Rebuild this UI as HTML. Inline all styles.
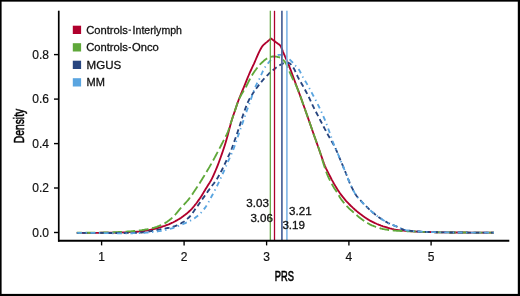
<!DOCTYPE html>
<html><head><meta charset="utf-8"><title>PRS density</title>
<style>
html,body{margin:0;padding:0;background:#fff;}
body{width:520px;height:296px;overflow:hidden;position:relative;font-family:"Liberation Sans",sans-serif;}
svg{position:absolute;left:0;top:0;display:block;will-change:transform;}
text{font-family:"Liberation Sans",sans-serif;fill:#111;stroke:#111;stroke-width:0.3px;}
</style></head><body>
<svg width="520" height="296" viewBox="0 0 520 296">
<rect x="0" y="0" width="520" height="296" fill="#fff"/>

<rect x="0" y="0" width="520" height="1.65" fill="#000"/>
<rect x="0" y="0" width="1.6" height="296" fill="#000"/>
<rect x="0" y="293.9" width="520" height="2.1" fill="#000"/>
<rect x="517.8" y="0" width="2.2" height="296" fill="#000"/>
<path d="M76.8,232.8 L77.8,232.8 L78.8,232.8 L79.8,232.8 L80.8,232.8 L81.8,232.8 L82.8,232.8 L83.8,232.8 L84.8,232.8 L85.8,232.8 L86.8,232.8 L87.8,232.8 L88.8,232.8 L89.8,232.8 L90.8,232.8 L91.8,232.8 L92.8,232.8 L93.8,232.8 L94.8,232.8 L95.8,232.8 L96.8,232.8 L97.8,232.8 L98.8,232.8 L99.8,232.8 L100.8,232.7 L101.8,232.7 L102.8,232.7 L103.8,232.7 L104.8,232.7 L105.8,232.7 L106.8,232.7 L107.8,232.7 L108.8,232.7 L109.8,232.7 L110.8,232.7 L111.8,232.7 L112.8,232.7 L113.8,232.7 L114.8,232.6 L115.8,232.6 L116.8,232.6 L117.8,232.6 L118.8,232.6 L119.8,232.5 L120.8,232.5 L121.8,232.5 L122.8,232.4 L123.8,232.4 L124.8,232.4 L125.8,232.3 L126.8,232.3 L127.8,232.2 L128.8,232.2 L129.8,232.1 L130.8,232.1 L131.8,232.0 L132.8,232.0 L133.8,231.9 L134.8,231.8 L135.8,231.8 L136.8,231.7 L137.8,231.7 L138.8,231.6 L139.8,231.5 L140.8,231.4 L141.8,231.3 L142.8,231.2 L143.8,231.1 L144.8,230.9 L145.8,230.7 L146.8,230.5 L147.8,230.3 L148.8,230.1 L149.8,229.9 L150.8,229.7 L151.8,229.4 L152.8,229.2 L153.8,229.0 L154.8,228.8 L155.8,228.5 L156.8,228.2 L157.8,228.0 L158.8,227.7 L159.8,227.4 L160.8,227.1 L161.8,226.8 L162.8,226.4 L163.8,226.1 L164.8,225.8 L165.8,225.4 L166.8,225.0 L167.8,224.7 L168.8,224.3 L169.8,223.8 L170.8,223.4 L171.8,222.9 L172.8,222.5 L173.8,222.0 L174.8,221.5 L175.8,220.9 L176.8,220.4 L177.8,219.8 L178.8,219.2 L179.8,218.6 L180.8,218.0 L181.8,217.3 L182.8,216.6 L183.8,215.8 L184.8,215.1 L185.8,214.3 L186.8,213.5 L187.8,212.6 L188.8,211.7 L189.8,210.8 L190.8,209.8 L191.8,208.8 L192.8,207.7 L193.8,206.5 L194.8,205.2 L195.8,204.0 L196.8,202.7 L197.8,201.3 L198.8,199.9 L199.8,198.5 L200.8,197.0 L201.8,195.4 L202.8,193.8 L203.8,192.1 L204.8,190.5 L205.8,188.8 L206.8,187.2 L207.8,185.6 L208.8,184.0 L209.8,182.4 L210.8,180.7 L211.8,178.9 L212.8,176.8 L213.8,174.6 L214.8,172.3 L215.8,170.0 L216.8,167.6 L217.8,165.1 L218.8,162.5 L219.8,159.8 L220.8,157.0 L221.8,154.1 L222.8,151.2 L223.8,148.2 L224.8,145.2 L225.8,142.0 L226.8,138.6 L227.8,135.0 L228.8,131.1 L229.8,127.2 L230.8,123.5 L231.8,120.0 L232.8,116.9 L233.8,114.0 L234.8,111.1 L235.8,108.1 L236.8,105.1 L237.8,102.2 L238.8,99.5 L239.8,97.0 L240.8,94.5 L241.8,92.1 L242.8,89.7 L243.8,87.3 L244.8,84.8 L245.8,82.3 L246.8,79.8 L247.8,77.3 L248.8,75.0 L249.8,72.7 L250.8,70.5 L251.8,68.4 L252.8,66.2 L253.8,64.1 L254.8,61.8 L255.8,59.5 L256.8,57.1 L257.8,54.8 L258.8,52.6 L259.8,50.6 L260.8,48.7 L261.8,47.0 L262.8,45.6 L263.8,44.6 L264.8,43.8 L265.8,42.9 L266.8,42.1 L267.8,41.2 L268.8,40.4 L269.8,39.5 L270.8,38.7 L271.0,38.5 L272.0,39.2 L273.0,40.0 L274.0,40.7 L275.0,41.5 L276.0,42.3 L277.0,43.0 L278.0,43.8 L279.0,44.4 L280.0,45.3 L281.0,46.8 L282.0,49.2 L283.0,51.8 L284.0,54.1 L285.0,56.3 L286.0,58.6 L287.0,60.9 L288.0,63.3 L289.0,65.7 L290.0,68.3 L291.0,70.9 L292.0,73.6 L293.0,76.3 L294.0,79.0 L295.0,81.8 L296.0,84.5 L297.0,87.2 L298.0,89.9 L299.0,92.6 L300.0,95.3 L301.0,98.1 L302.0,100.9 L303.0,103.7 L304.0,106.5 L305.0,109.3 L306.0,112.2 L307.0,115.0 L308.0,117.9 L309.0,120.7 L310.0,123.6 L311.0,126.5 L312.0,129.4 L313.0,132.3 L314.0,135.2 L315.0,138.0 L316.0,140.8 L317.0,143.6 L318.0,146.5 L319.0,149.3 L320.0,152.1 L321.0,155.0 L322.0,157.9 L323.0,160.8 L324.0,163.5 L325.0,166.0 L326.0,168.3 L327.0,170.4 L328.0,172.4 L329.0,174.4 L330.0,176.3 L331.0,178.2 L332.0,180.1 L333.0,181.9 L334.0,183.7 L335.0,185.4 L336.0,187.1 L337.0,188.7 L338.0,190.3 L339.0,191.8 L340.0,193.3 L341.0,194.6 L342.0,195.9 L343.0,197.2 L344.0,198.4 L345.0,199.6 L346.0,200.8 L347.0,201.9 L348.0,202.9 L349.0,204.0 L350.0,205.0 L351.0,206.0 L352.0,206.9 L353.0,207.9 L354.0,208.8 L355.0,209.7 L356.0,210.5 L357.0,211.4 L358.0,212.2 L359.0,213.0 L360.0,213.8 L361.0,214.5 L362.0,215.2 L363.0,216.0 L364.0,216.7 L365.0,217.4 L366.0,218.1 L367.0,218.7 L368.0,219.4 L369.0,220.0 L370.0,220.6 L371.0,221.1 L372.0,221.6 L373.0,222.1 L374.0,222.6 L375.0,223.1 L376.0,223.5 L377.0,224.0 L378.0,224.4 L379.0,224.8 L380.0,225.2 L381.0,225.6 L382.0,225.9 L383.0,226.3 L384.0,226.6 L385.0,226.9 L386.0,227.2 L387.0,227.5 L388.0,227.8 L389.0,228.1 L390.0,228.4 L391.0,228.6 L392.0,228.9 L393.0,229.1 L394.0,229.4 L395.0,229.6 L396.0,229.8 L397.0,229.9 L398.0,230.1 L399.0,230.2 L400.0,230.3 L401.0,230.4 L402.0,230.5 L403.0,230.6 L404.0,230.7 L405.0,230.8 L406.0,230.9 L407.0,231.0 L408.0,231.1 L409.0,231.1 L410.0,231.2 L411.0,231.3 L412.0,231.3 L413.0,231.4 L414.0,231.4 L415.0,231.5 L416.0,231.6 L417.0,231.6 L418.0,231.6 L419.0,231.7 L420.0,231.7 L421.0,231.8 L422.0,231.8 L423.0,231.8 L424.0,231.9 L425.0,231.9 L426.0,231.9 L427.0,232.0 L428.0,232.0 L429.0,232.0 L430.0,232.0 L431.0,232.1 L432.0,232.1 L433.0,232.1 L434.0,232.2 L435.0,232.2 L436.0,232.2 L437.0,232.2 L438.0,232.3 L439.0,232.3 L440.0,232.3 L441.0,232.3 L442.0,232.3 L443.0,232.4 L444.0,232.4 L445.0,232.4 L446.0,232.4 L447.0,232.4 L448.0,232.4 L449.0,232.4 L450.0,232.5 L451.0,232.5 L452.0,232.5 L453.0,232.5 L454.0,232.5 L455.0,232.5 L456.0,232.5 L457.0,232.5 L458.0,232.5 L459.0,232.5 L460.0,232.5 L461.0,232.5 L462.0,232.5 L463.0,232.5 L464.0,232.5 L465.0,232.5 L466.0,232.5 L467.0,232.5 L468.0,232.6 L469.0,232.6 L470.0,232.6 L471.0,232.6 L472.0,232.6 L473.0,232.6 L474.0,232.6 L475.0,232.6 L476.0,232.6 L477.0,232.6 L478.0,232.6 L479.0,232.6 L480.0,232.6 L481.0,232.6 L482.0,232.6 L483.0,232.6 L484.0,232.6 L485.0,232.6 L486.0,232.6 L487.0,232.6 L488.0,232.6 L489.0,232.6 L490.0,232.6 L491.0,232.6 L492.0,232.6 L493.0,232.6 L493.8,232.6" fill="none" stroke="#b0002d" stroke-width="1.85" stroke-linejoin="round"/>
<path d="M76.8,232.7 L77.8,232.7 L78.8,232.7 L79.8,232.7 L80.8,232.7 L81.8,232.7 L82.8,232.7 L83.8,232.7 L84.8,232.7 L85.8,232.7 L86.8,232.7 L87.8,232.7 L88.8,232.7 L89.8,232.7 L90.8,232.7 L91.8,232.7 L92.8,232.7 L93.8,232.6 L94.8,232.6 L95.8,232.6 L96.8,232.6 L97.8,232.6 L98.8,232.6 L99.8,232.6 L100.8,232.6 L101.8,232.6 L102.8,232.6 L103.8,232.5 L104.8,232.5 L105.8,232.5 L106.8,232.5 L107.8,232.4 L108.8,232.4 L109.8,232.4 L110.8,232.3 L111.8,232.3 L112.8,232.3 L113.8,232.2 L114.8,232.2 L115.8,232.2 L116.8,232.1 L117.8,232.1 L118.8,232.0 L119.8,232.0 L120.8,231.9 L121.8,231.9 L122.8,231.8 L123.8,231.8 L124.8,231.7 L125.8,231.7 L126.8,231.6 L127.8,231.5 L128.8,231.5 L129.8,231.4 L130.8,231.3 L131.8,231.2 L132.8,231.1 L133.8,231.0 L134.8,231.0 L135.8,230.9 L136.8,230.8 L137.8,230.7 L138.8,230.5 L139.8,230.4 L140.8,230.3 L141.8,230.2 L142.8,230.0 L143.8,229.9 L144.8,229.7 L145.8,229.5 L146.8,229.4 L147.8,229.2 L148.8,229.0 L149.8,228.7 L150.8,228.5 L151.8,228.3 L152.8,228.0 L153.8,227.8 L154.8,227.5 L155.8,227.1 L156.8,226.8 L157.8,226.4 L158.8,226.0 L159.8,225.6 L160.8,225.2 L161.8,224.7 L162.8,224.2 L163.8,223.7 L164.8,223.2 L165.8,222.6 L166.8,222.0 L167.8,221.3 L168.8,220.6 L169.8,219.8 L170.8,219.0 L171.8,218.1 L172.8,217.2 L173.8,216.2 L174.8,215.2 L175.8,214.0 L176.8,212.8 L177.8,211.6 L178.8,210.4 L179.8,209.2 L180.8,208.0 L181.8,206.9 L182.8,205.8 L183.8,204.8 L184.8,203.7 L185.8,202.6 L186.8,201.5 L187.8,200.4 L188.8,199.1 L189.8,197.8 L190.8,196.4 L191.8,195.0 L192.8,193.6 L193.8,192.1 L194.8,190.6 L195.8,189.1 L196.8,187.5 L197.8,186.0 L198.8,184.5 L199.8,182.9 L200.8,181.3 L201.8,179.7 L202.8,178.1 L203.8,176.5 L204.8,174.8 L205.8,173.2 L206.8,171.5 L207.8,169.8 L208.8,168.1 L209.8,166.4 L210.8,164.6 L211.8,162.8 L212.8,161.0 L213.8,159.2 L214.8,157.4 L215.8,155.5 L216.8,153.6 L217.8,151.7 L218.8,149.8 L219.8,147.9 L220.8,146.0 L221.8,144.0 L222.8,142.1 L223.8,140.1 L224.8,138.2 L225.8,136.3 L226.8,134.3 L227.8,132.0 L228.8,129.3 L229.8,126.2 L230.8,123.1 L231.8,120.0 L232.8,117.0 L233.8,114.0 L234.8,111.1 L235.8,108.1 L236.8,105.0 L237.8,102.1 L238.8,99.6 L239.8,97.6 L240.8,95.7 L241.8,93.9 L242.8,92.2 L243.8,90.6 L244.8,88.9 L245.8,87.2 L246.8,85.3 L247.8,83.3 L248.8,81.2 L249.8,79.3 L250.8,77.5 L251.8,75.7 L252.8,74.1 L253.8,72.5 L254.8,71.0 L255.8,69.7 L256.8,68.3 L257.8,67.1 L258.8,65.9 L259.8,64.7 L260.8,63.7 L261.8,62.7 L262.8,61.8 L263.8,60.8 L264.8,60.0 L265.8,59.2 L266.8,58.6 L267.8,58.1 L268.8,57.7 L269.8,57.3 L270.8,56.9 L271.8,56.6 L272.8,56.5 L273.8,56.4 L274.8,56.4 L275.8,56.6 L276.8,56.7 L277.8,57.0 L278.8,57.2 L279.8,57.5 L280.8,57.9 L281.8,58.6 L282.8,59.5 L283.8,60.6 L284.8,61.7 L285.8,63.2 L286.8,65.3 L287.8,67.7 L288.8,70.1 L289.8,72.4 L290.8,74.7 L291.8,76.9 L292.8,79.1 L293.8,81.0 L294.8,82.8 L295.8,84.9 L296.8,87.2 L297.8,89.6 L298.8,92.2 L299.8,94.8 L300.8,97.4 L301.8,100.2 L302.8,103.1 L303.8,105.9 L304.8,108.8 L305.8,111.6 L306.8,114.4 L307.8,117.3 L308.8,120.1 L309.8,123.0 L310.8,125.9 L311.8,128.8 L312.8,131.7 L313.8,134.6 L314.8,137.4 L315.8,140.2 L316.8,142.9 L317.8,145.7 L318.8,148.5 L319.8,151.5 L320.8,154.7 L321.8,158.1 L322.8,161.5 L323.8,164.8 L324.8,167.8 L325.8,170.8 L326.8,173.5 L327.8,175.9 L328.8,178.1 L329.8,180.1 L330.8,182.1 L331.8,183.9 L332.8,185.7 L333.8,187.4 L334.8,189.0 L335.8,190.5 L336.8,192.0 L337.8,193.6 L338.8,195.4 L339.8,197.2 L340.8,198.7 L341.8,200.1 L342.8,201.4 L343.8,202.7 L344.8,203.9 L345.8,205.1 L346.8,206.2 L347.8,207.2 L348.8,208.2 L349.8,209.1 L350.8,210.0 L351.8,210.8 L352.8,211.7 L353.8,212.5 L354.8,213.4 L355.8,214.3 L356.8,215.2 L357.8,216.1 L358.8,217.0 L359.8,217.8 L360.8,218.6 L361.8,219.3 L362.8,220.0 L363.8,220.7 L364.8,221.4 L365.8,222.0 L366.8,222.6 L367.8,223.2 L368.8,223.8 L369.8,224.4 L370.8,224.8 L371.8,225.3 L372.8,225.7 L373.8,226.1 L374.8,226.5 L375.8,226.9 L376.8,227.2 L377.8,227.6 L378.8,227.9 L379.8,228.2 L380.8,228.5 L381.8,228.7 L382.8,229.0 L383.8,229.2 L384.8,229.4 L385.8,229.5 L386.8,229.7 L387.8,229.8 L388.8,230.0 L389.8,230.1 L390.8,230.2 L391.8,230.3 L392.8,230.4 L393.8,230.5 L394.8,230.6 L395.8,230.7 L396.8,230.8 L397.8,230.8 L398.8,230.9 L399.8,230.9 L400.8,231.0 L401.8,231.0 L402.8,231.0 L403.8,231.1 L404.8,231.1 L405.8,231.1 L406.8,231.2 L407.8,231.2 L408.8,231.3 L409.8,231.3 L410.8,231.3 L411.8,231.4 L412.8,231.4 L413.8,231.5 L414.8,231.5 L415.8,231.6 L416.8,231.6 L417.8,231.6 L418.8,231.7 L419.8,231.7 L420.8,231.8 L421.8,231.8 L422.8,231.8 L423.8,231.9 L424.8,231.9 L425.8,231.9 L426.8,231.9 L427.8,232.0 L428.8,232.0 L429.8,232.0 L430.8,232.1 L431.8,232.1 L432.8,232.1 L433.8,232.1 L434.8,232.2 L435.8,232.2 L436.8,232.2 L437.8,232.2 L438.8,232.3 L439.8,232.3 L440.8,232.3 L441.8,232.3 L442.8,232.3 L443.8,232.4 L444.8,232.4 L445.8,232.4 L446.8,232.4 L447.8,232.4 L448.8,232.4 L449.8,232.5 L450.8,232.5 L451.8,232.5 L452.8,232.5 L453.8,232.5 L454.8,232.5 L455.8,232.5 L456.8,232.5 L457.8,232.5 L458.8,232.5 L459.8,232.5 L460.8,232.5 L461.8,232.5 L462.8,232.5 L463.8,232.5 L464.8,232.5 L465.8,232.5 L466.8,232.5 L467.8,232.6 L468.8,232.6 L469.8,232.6 L470.8,232.6 L471.8,232.6 L472.8,232.6 L473.8,232.6 L474.8,232.6 L475.8,232.6 L476.8,232.6 L477.8,232.6 L478.8,232.6 L479.8,232.6 L480.8,232.6 L481.8,232.6 L482.8,232.6 L483.8,232.6 L484.8,232.6 L485.8,232.6 L486.8,232.6 L487.8,232.6 L488.8,232.6 L489.8,232.6 L490.8,232.6 L491.8,232.6 L492.8,232.6 L493.8,232.6" fill="none" stroke="#5fa83a" stroke-width="1.85" stroke-dasharray="9.78 3.6" stroke-dashoffset="4.7" stroke-linejoin="round"/>
<path d="M76.8,232.8 L77.8,232.8 L78.8,232.8 L79.8,232.8 L80.8,232.8 L81.8,232.8 L82.8,232.8 L83.8,232.8 L84.8,232.8 L85.8,232.8 L86.8,232.8 L87.8,232.8 L88.8,232.8 L89.8,232.9 L90.8,232.9 L91.8,232.9 L92.8,232.9 L93.8,232.9 L94.8,232.9 L95.8,232.9 L96.8,232.9 L97.8,232.9 L98.8,232.9 L99.8,232.9 L100.8,232.9 L101.8,232.9 L102.8,232.9 L103.8,232.9 L104.8,232.9 L105.8,232.9 L106.8,232.9 L107.8,232.9 L108.8,233.0 L109.8,233.0 L110.8,233.0 L111.8,233.0 L112.8,233.0 L113.8,233.0 L114.8,233.0 L115.8,233.0 L116.8,233.0 L117.8,233.0 L118.8,233.0 L119.8,233.0 L120.8,233.0 L121.8,233.0 L122.8,233.0 L123.8,233.0 L124.8,233.0 L125.8,233.0 L126.8,232.9 L127.8,232.9 L128.8,232.9 L129.8,232.9 L130.8,232.9 L131.8,232.8 L132.8,232.8 L133.8,232.8 L134.8,232.8 L135.8,232.7 L136.8,232.7 L137.8,232.7 L138.8,232.6 L139.8,232.6 L140.8,232.6 L141.8,232.5 L142.8,232.4 L143.8,232.3 L144.8,232.2 L145.8,232.0 L146.8,231.9 L147.8,231.7 L148.8,231.5 L149.8,231.4 L150.8,231.2 L151.8,231.0 L152.8,230.8 L153.8,230.6 L154.8,230.4 L155.8,230.2 L156.8,230.0 L157.8,229.8 L158.8,229.6 L159.8,229.4 L160.8,229.2 L161.8,229.1 L162.8,228.9 L163.8,228.7 L164.8,228.6 L165.8,228.4 L166.8,228.2 L167.8,228.0 L168.8,227.8 L169.8,227.6 L170.8,227.3 L171.8,227.1 L172.8,226.8 L173.8,226.5 L174.8,226.2 L175.8,225.8 L176.8,225.4 L177.8,224.9 L178.8,224.5 L179.8,224.0 L180.8,223.5 L181.8,222.9 L182.8,222.3 L183.8,221.7 L184.8,221.0 L185.8,220.2 L186.8,219.3 L187.8,218.4 L188.8,217.5 L189.8,216.5 L190.8,215.4 L191.8,214.1 L192.8,212.7 L193.8,211.3 L194.8,209.8 L195.8,208.3 L196.8,206.9 L197.8,205.6 L198.8,204.2 L199.8,202.8 L200.8,201.4 L201.8,200.0 L202.8,198.5 L203.8,197.1 L204.8,195.7 L205.8,194.3 L206.8,192.9 L207.8,191.4 L208.8,190.1 L209.8,188.7 L210.8,187.4 L211.8,186.1 L212.8,184.8 L213.8,183.5 L214.8,182.1 L215.8,180.7 L216.8,179.2 L217.8,177.6 L218.8,175.8 L219.8,174.0 L220.8,172.1 L221.8,170.2 L222.8,168.2 L223.8,166.1 L224.8,164.0 L225.8,161.8 L226.8,159.7 L227.8,157.5 L228.8,155.4 L229.8,153.3 L230.8,151.0 L231.8,148.5 L232.8,145.8 L233.8,143.0 L234.8,140.1 L235.8,137.3 L236.8,134.4 L237.8,131.5 L238.8,128.5 L239.8,125.5 L240.8,122.3 L241.8,118.9 L242.8,115.7 L243.8,112.8 L244.8,110.1 L245.8,107.4 L246.8,104.8 L247.8,102.4 L248.8,100.3 L249.8,98.4 L250.8,96.8 L251.8,95.2 L252.8,93.6 L253.8,92.1 L254.8,90.6 L255.8,89.2 L256.8,87.8 L257.8,86.4 L258.8,85.1 L259.8,83.8 L260.8,82.5 L261.8,81.3 L262.8,80.2 L263.8,79.0 L264.8,77.9 L265.8,76.8 L266.8,75.8 L267.8,74.8 L268.8,73.8 L269.8,72.9 L270.8,72.0 L271.8,71.1 L272.8,70.3 L273.8,69.5 L274.8,68.7 L275.8,67.9 L276.8,67.1 L277.8,66.4 L278.8,65.8 L279.8,65.2 L280.8,64.7 L281.8,64.1 L282.8,63.6 L283.8,63.2 L284.8,63.0 L285.8,63.0 L286.8,63.0 L287.8,63.0 L288.8,63.0 L289.8,63.4 L290.8,64.4 L291.8,65.5 L292.8,66.8 L293.8,68.4 L294.8,70.3 L295.8,72.4 L296.8,74.7 L297.8,76.9 L298.8,78.8 L299.8,80.6 L300.8,82.3 L301.8,84.0 L302.8,85.7 L303.8,87.5 L304.8,89.3 L305.8,91.2 L306.8,93.1 L307.8,95.0 L308.8,97.0 L309.8,99.1 L310.8,101.3 L311.8,103.5 L312.8,105.6 L313.8,107.7 L314.8,109.7 L315.8,111.6 L316.8,113.5 L317.8,115.4 L318.8,117.3 L319.8,119.3 L320.8,121.2 L321.8,123.1 L322.8,125.0 L323.8,127.0 L324.8,128.9 L325.8,130.7 L326.8,132.6 L327.8,134.5 L328.8,136.3 L329.8,138.0 L330.8,139.7 L331.8,141.5 L332.8,143.3 L333.8,145.1 L334.8,147.1 L335.8,149.1 L336.8,151.3 L337.8,153.6 L338.8,156.0 L339.8,158.5 L340.8,161.0 L341.8,163.4 L342.8,165.7 L343.8,168.1 L344.8,170.6 L345.8,173.0 L346.8,175.5 L347.8,178.1 L348.8,180.7 L349.8,183.1 L350.8,185.2 L351.8,187.4 L352.8,189.4 L353.8,191.3 L354.8,193.1 L355.8,194.8 L356.8,196.2 L357.8,197.5 L358.8,198.6 L359.8,199.7 L360.8,200.7 L361.8,201.8 L362.8,202.8 L363.8,203.9 L364.8,204.9 L365.8,205.9 L366.8,206.9 L367.8,207.9 L368.8,208.9 L369.8,209.8 L370.8,210.7 L371.8,211.6 L372.8,212.5 L373.8,213.3 L374.8,214.1 L375.8,215.0 L376.8,215.7 L377.8,216.5 L378.8,217.2 L379.8,217.9 L380.8,218.6 L381.8,219.3 L382.8,219.9 L383.8,220.5 L384.8,221.1 L385.8,221.7 L386.8,222.2 L387.8,222.8 L388.8,223.3 L389.8,223.7 L390.8,224.2 L391.8,224.6 L392.8,225.1 L393.8,225.4 L394.8,225.8 L395.8,226.2 L396.8,226.6 L397.8,227.0 L398.8,227.5 L399.8,228.0 L400.8,228.5 L401.8,229.0 L402.8,229.3 L403.8,229.6 L404.8,229.8 L405.8,230.1 L406.8,230.3 L407.8,230.5 L408.8,230.6 L409.8,230.7 L410.8,230.8 L411.8,231.0 L412.8,231.1 L413.8,231.2 L414.8,231.2 L415.8,231.3 L416.8,231.4 L417.8,231.5 L418.8,231.5 L419.8,231.6 L420.8,231.6 L421.8,231.7 L422.8,231.7 L423.8,231.8 L424.8,231.8 L425.8,231.8 L426.8,231.9 L427.8,231.9 L428.8,232.0 L429.8,232.0 L430.8,232.0 L431.8,232.1 L432.8,232.1 L433.8,232.1 L434.8,232.1 L435.8,232.2 L436.8,232.2 L437.8,232.2 L438.8,232.3 L439.8,232.3 L440.8,232.3 L441.8,232.3 L442.8,232.3 L443.8,232.4 L444.8,232.4 L445.8,232.4 L446.8,232.4 L447.8,232.4 L448.8,232.4 L449.8,232.5 L450.8,232.5 L451.8,232.5 L452.8,232.5 L453.8,232.5 L454.8,232.5 L455.8,232.5 L456.8,232.5 L457.8,232.5 L458.8,232.5 L459.8,232.5 L460.8,232.5 L461.8,232.5 L462.8,232.5 L463.8,232.5 L464.8,232.5 L465.8,232.5 L466.8,232.5 L467.8,232.6 L468.8,232.6 L469.8,232.6 L470.8,232.6 L471.8,232.6 L472.8,232.6 L473.8,232.6 L474.8,232.6 L475.8,232.6 L476.8,232.6 L477.8,232.6 L478.8,232.6 L479.8,232.6 L480.8,232.6 L481.8,232.6 L482.8,232.6 L483.8,232.6 L484.8,232.6 L485.8,232.6 L486.8,232.6 L487.8,232.6 L488.8,232.6 L489.8,232.6 L490.8,232.6 L491.8,232.6 L492.8,232.6 L493.8,232.6" fill="none" stroke="#27457f" stroke-width="1.85" stroke-dasharray="5.0 3.27" stroke-dashoffset="2.77" stroke-linejoin="round"/>
<path d="M76.8,232.8 L77.8,232.8 L78.8,232.8 L79.8,232.8 L80.8,232.8 L81.8,232.8 L82.8,232.8 L83.8,232.8 L84.8,232.9 L85.8,232.9 L86.8,232.9 L87.8,232.9 L88.8,232.9 L89.8,232.9 L90.8,232.9 L91.8,232.9 L92.8,232.9 L93.8,232.9 L94.8,232.9 L95.8,233.0 L96.8,233.0 L97.8,233.0 L98.8,233.0 L99.8,233.0 L100.8,233.0 L101.8,233.0 L102.8,233.0 L103.8,233.1 L104.8,233.1 L105.8,233.1 L106.8,233.1 L107.8,233.1 L108.8,233.2 L109.8,233.2 L110.8,233.2 L111.8,233.2 L112.8,233.2 L113.8,233.2 L114.8,233.3 L115.8,233.3 L116.8,233.3 L117.8,233.3 L118.8,233.3 L119.8,233.3 L120.8,233.3 L121.8,233.3 L122.8,233.3 L123.8,233.3 L124.8,233.3 L125.8,233.3 L126.8,233.3 L127.8,233.2 L128.8,233.2 L129.8,233.2 L130.8,233.2 L131.8,233.2 L132.8,233.2 L133.8,233.1 L134.8,233.1 L135.8,233.1 L136.8,233.1 L137.8,233.1 L138.8,233.0 L139.8,233.0 L140.8,233.0 L141.8,232.9 L142.8,232.9 L143.8,232.8 L144.8,232.8 L145.8,232.7 L146.8,232.6 L147.8,232.5 L148.8,232.5 L149.8,232.4 L150.8,232.3 L151.8,232.1 L152.8,232.0 L153.8,231.9 L154.8,231.8 L155.8,231.6 L156.8,231.5 L157.8,231.4 L158.8,231.2 L159.8,231.1 L160.8,230.9 L161.8,230.7 L162.8,230.6 L163.8,230.4 L164.8,230.2 L165.8,230.1 L166.8,229.8 L167.8,229.6 L168.8,229.3 L169.8,229.0 L170.8,228.7 L171.8,228.4 L172.8,228.1 L173.8,227.7 L174.8,227.4 L175.8,227.0 L176.8,226.7 L177.8,226.3 L178.8,225.9 L179.8,225.5 L180.8,225.1 L181.8,224.6 L182.8,224.2 L183.8,223.7 L184.8,223.3 L185.8,222.8 L186.8,222.4 L187.8,221.9 L188.8,221.4 L189.8,221.0 L190.8,220.4 L191.8,219.9 L192.8,219.3 L193.8,218.7 L194.8,218.1 L195.8,217.3 L196.8,216.6 L197.8,215.7 L198.8,214.9 L199.8,213.9 L200.8,213.0 L201.8,211.9 L202.8,210.8 L203.8,209.5 L204.8,208.1 L205.8,206.7 L206.8,205.1 L207.8,203.4 L208.8,201.6 L209.8,199.7 L210.8,197.9 L211.8,196.0 L212.8,194.2 L213.8,192.3 L214.8,190.4 L215.8,188.4 L216.8,186.5 L217.8,184.4 L218.8,182.3 L219.8,180.2 L220.8,178.0 L221.8,175.8 L222.8,173.6 L223.8,171.4 L224.8,169.1 L225.8,166.8 L226.8,164.5 L227.8,162.1 L228.8,159.8 L229.8,157.6 L230.8,155.4 L231.8,153.1 L232.8,150.8 L233.8,148.2 L234.8,145.4 L235.8,142.5 L236.8,139.6 L237.8,136.7 L238.8,133.9 L239.8,131.0 L240.8,128.2 L241.8,125.3 L242.8,122.4 L243.8,119.5 L244.8,116.6 L245.8,113.6 L246.8,110.7 L247.8,107.9 L248.8,105.2 L249.8,102.4 L250.8,99.6 L251.8,96.6 L252.8,93.4 L253.8,90.7 L254.8,88.1 L255.8,85.9 L256.8,83.8 L257.8,82.0 L258.8,80.1 L259.8,78.1 L260.8,75.8 L261.8,73.5 L262.8,71.3 L263.8,69.4 L264.8,67.7 L265.8,66.2 L266.8,64.8 L267.8,63.5 L268.8,62.3 L269.8,61.2 L270.8,60.1 L271.8,59.1 L272.8,58.3 L273.8,57.6 L274.8,56.9 L275.8,56.3 L276.8,55.7 L277.8,55.2 L278.8,54.9 L279.8,54.8 L280.8,54.8 L281.8,54.9 L282.8,55.0 L283.8,55.2 L284.8,55.4 L285.8,55.8 L286.8,56.6 L287.8,57.5 L288.8,58.6 L289.8,59.6 L290.8,60.6 L291.8,61.6 L292.8,62.7 L293.8,63.8 L294.8,65.0 L295.8,66.1 L296.8,67.2 L297.8,68.4 L298.8,69.6 L299.8,71.1 L300.8,73.0 L301.8,75.0 L302.8,77.0 L303.8,78.7 L304.8,80.3 L305.8,81.9 L306.8,83.6 L307.8,85.4 L308.8,87.2 L309.8,89.1 L310.8,91.1 L311.8,92.9 L312.8,94.8 L313.8,96.6 L314.8,98.5 L315.8,100.4 L316.8,102.3 L317.8,104.3 L318.8,106.4 L319.8,108.5 L320.8,110.6 L321.8,112.8 L322.8,115.0 L323.8,117.3 L324.8,119.7 L325.8,122.2 L326.8,124.8 L327.8,127.5 L328.8,130.2 L329.8,133.0 L330.8,135.8 L331.8,138.6 L332.8,141.5 L333.8,144.3 L334.8,146.7 L335.8,149.0 L336.8,151.3 L337.8,153.7 L338.8,156.1 L339.8,158.5 L340.8,161.0 L341.8,163.4 L342.8,165.7 L343.8,168.1 L344.8,170.6 L345.8,173.0 L346.8,175.5 L347.8,178.1 L348.8,180.7 L349.8,183.1 L350.8,185.2 L351.8,187.4 L352.8,189.4 L353.8,191.3 L354.8,193.1 L355.8,194.8 L356.8,196.2 L357.8,197.5 L358.8,198.6 L359.8,199.7 L360.8,200.7 L361.8,201.8 L362.8,202.8 L363.8,203.9 L364.8,204.9 L365.8,205.9 L366.8,206.9 L367.8,207.9 L368.8,208.9 L369.8,209.8 L370.8,210.7 L371.8,211.6 L372.8,212.5 L373.8,213.3 L374.8,214.1 L375.8,215.0 L376.8,215.7 L377.8,216.5 L378.8,217.2 L379.8,217.9 L380.8,218.6 L381.8,219.3 L382.8,219.9 L383.8,220.5 L384.8,221.1 L385.8,221.7 L386.8,222.2 L387.8,222.8 L388.8,223.3 L389.8,223.7 L390.8,224.2 L391.8,224.6 L392.8,225.1 L393.8,225.4 L394.8,225.8 L395.8,226.2 L396.8,226.6 L397.8,227.0 L398.8,227.5 L399.8,228.0 L400.8,228.5 L401.8,229.0 L402.8,229.3 L403.8,229.6 L404.8,229.8 L405.8,230.1 L406.8,230.3 L407.8,230.5 L408.8,230.6 L409.8,230.7 L410.8,230.8 L411.8,231.0 L412.8,231.1 L413.8,231.2 L414.8,231.2 L415.8,231.3 L416.8,231.4 L417.8,231.5 L418.8,231.5 L419.8,231.6 L420.8,231.6 L421.8,231.7 L422.8,231.7 L423.8,231.8 L424.8,231.8 L425.8,231.8 L426.8,231.9 L427.8,231.9 L428.8,232.0 L429.8,232.0 L430.8,232.0 L431.8,232.1 L432.8,232.1 L433.8,232.1 L434.8,232.1 L435.8,232.2 L436.8,232.2 L437.8,232.2 L438.8,232.3 L439.8,232.3 L440.8,232.3 L441.8,232.3 L442.8,232.3 L443.8,232.4 L444.8,232.4 L445.8,232.4 L446.8,232.4 L447.8,232.4 L448.8,232.4 L449.8,232.5 L450.8,232.5 L451.8,232.5 L452.8,232.5 L453.8,232.5 L454.8,232.5 L455.8,232.5 L456.8,232.5 L457.8,232.5 L458.8,232.5 L459.8,232.5 L460.8,232.5 L461.8,232.5 L462.8,232.5 L463.8,232.5 L464.8,232.5 L465.8,232.5 L466.8,232.5 L467.8,232.6 L468.8,232.6 L469.8,232.6 L470.8,232.6 L471.8,232.6 L472.8,232.6 L473.8,232.6 L474.8,232.6 L475.8,232.6 L476.8,232.6 L477.8,232.6 L478.8,232.6 L479.8,232.6 L480.8,232.6 L481.8,232.6 L482.8,232.6 L483.8,232.6 L484.8,232.6 L485.8,232.6 L486.8,232.6 L487.8,232.6 L488.8,232.6 L489.8,232.6 L490.8,232.6 L491.8,232.6 L492.8,232.6 L493.8,232.6" fill="none" stroke="#5aa5e0" stroke-width="1.85" stroke-dasharray="4.85 3.6 1.25 3.6" stroke-dashoffset="12.9" stroke-linejoin="round"/>
<line x1="270.3" y1="10.8" x2="270.3" y2="240.75" stroke="#5ca338" stroke-width="1.2"/>
<line x1="274.5" y1="10.8" x2="274.5" y2="240.75" stroke="#ad002b" stroke-width="1.3"/>
<line x1="281.9" y1="10.8" x2="281.9" y2="240.75" stroke="#546b9d" stroke-width="1.8"/>
<line x1="286.9" y1="10.8" x2="286.9" y2="240.75" stroke="#7eb5e7" stroke-width="1.6"/>
<line x1="58.75" y1="10.7" x2="58.75" y2="241.65" stroke="#000" stroke-width="1.7"/>
<line x1="58.0" y1="240.75" x2="509.3" y2="240.75" stroke="#000" stroke-width="1.8"/>
<line x1="54" y1="232.5" x2="58.75" y2="232.5" stroke="#000" stroke-width="1.4"/>
<text x="49.0" y="236.7" font-size="12" text-anchor="end" style="stroke-width:0.2px">0.0</text>
<line x1="54" y1="188.0" x2="58.75" y2="188.0" stroke="#000" stroke-width="1.4"/>
<text x="49.0" y="192.2" font-size="12" text-anchor="end" style="stroke-width:0.2px">0.2</text>
<line x1="54" y1="143.6" x2="58.75" y2="143.6" stroke="#000" stroke-width="1.4"/>
<text x="49.0" y="147.79999999999998" font-size="12" text-anchor="end" style="stroke-width:0.2px">0.4</text>
<line x1="54" y1="99.1" x2="58.75" y2="99.1" stroke="#000" stroke-width="1.4"/>
<text x="49.0" y="103.3" font-size="12" text-anchor="end" style="stroke-width:0.2px">0.6</text>
<line x1="54" y1="54.6" x2="58.75" y2="54.6" stroke="#000" stroke-width="1.4"/>
<text x="49.0" y="58.800000000000004" font-size="12" text-anchor="end" style="stroke-width:0.2px">0.8</text>
<line x1="101.6" y1="240.75" x2="101.6" y2="245.4" stroke="#000" stroke-width="1.35"/>
<text x="101.6" y="261.0" font-size="12" text-anchor="middle" style="stroke-width:0.2px">1</text>
<line x1="184.1" y1="240.75" x2="184.1" y2="245.4" stroke="#000" stroke-width="1.35"/>
<text x="184.1" y="261.0" font-size="12" text-anchor="middle" style="stroke-width:0.2px">2</text>
<line x1="266.6" y1="240.75" x2="266.6" y2="245.4" stroke="#000" stroke-width="1.35"/>
<text x="266.6" y="261.0" font-size="12" text-anchor="middle" style="stroke-width:0.2px">3</text>
<line x1="348.9" y1="240.75" x2="348.9" y2="245.4" stroke="#000" stroke-width="1.35"/>
<text x="348.9" y="261.0" font-size="12" text-anchor="middle" style="stroke-width:0.2px">4</text>
<line x1="431.1" y1="240.75" x2="431.1" y2="245.4" stroke="#000" stroke-width="1.35"/>
<text x="431.1" y="261.0" font-size="12" text-anchor="middle" style="stroke-width:0.2px">5</text>
<rect x="72.8" y="25.7" width="8.3" height="8.3" fill="#b0002d"/>
<rect x="72.8" y="43.2" width="8.3" height="8.3" fill="#5fa83a"/>
<rect x="72.8" y="60.7" width="8.3" height="8.3" fill="#27457f"/>
<rect x="72.8" y="78.2" width="8.3" height="8.3" fill="#5aa5e0"/>
<text x="86.2" y="33.7" font-size="11.7" textLength="41.7" lengthAdjust="spacingAndGlyphs">Controls</text>
<rect x="128.5" y="29.6" width="2.5" height="1.1" fill="#111"/>
<text x="132.6" y="33.7" font-size="11.7" textLength="49.4" lengthAdjust="spacingAndGlyphs">Interlymph</text>
<text x="86.2" y="51.2" font-size="11.7" textLength="41.7" lengthAdjust="spacingAndGlyphs">Controls</text>
<rect x="128.5" y="47.1" width="2.5" height="1.1" fill="#111"/>
<text x="132.0" y="51.2" font-size="11.7" textLength="26.8" lengthAdjust="spacingAndGlyphs">Onco</text>
<text x="86.6" y="68.7" font-size="11.7" textLength="34.6" lengthAdjust="spacingAndGlyphs">MGUS</text>
<text x="86.6" y="86.1" font-size="11.7" textLength="18.4" lengthAdjust="spacingAndGlyphs">MM</text>
<text x="246.3" y="206.8" font-size="11.2" textLength="22.6" lengthAdjust="spacingAndGlyphs">3.03</text>
<text x="250.4" y="222.4" font-size="11.2" textLength="22.6" lengthAdjust="spacingAndGlyphs">3.06</text>
<text x="289.1" y="215.1" font-size="11.2" textLength="22.6" lengthAdjust="spacingAndGlyphs">3.21</text>
<text x="282.4" y="228.9" font-size="11.2" textLength="22.6" lengthAdjust="spacingAndGlyphs">3.19</text>
<text transform="translate(284.3,281.3) scale(0.632,1)" font-size="14.7" text-anchor="middle" style="stroke-width:0.6px;fill:#000;stroke:#000">PRS</text>
<text transform="translate(23.5,126.0) rotate(-90) scale(0.735,1)" font-size="14" text-anchor="middle" style="stroke-width:0.55px;fill:#000;stroke:#000">Density</text>
</svg></body></html>
